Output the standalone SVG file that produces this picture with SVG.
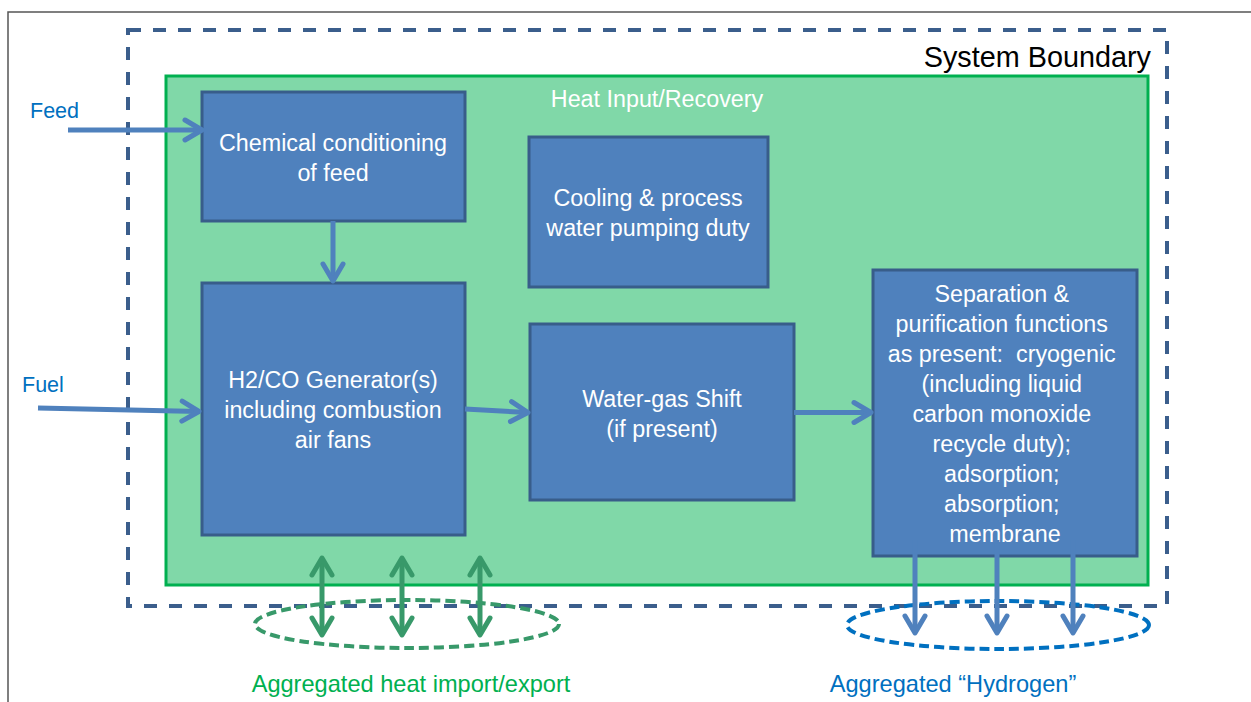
<svg xmlns="http://www.w3.org/2000/svg" width="1251" height="702" viewBox="0 0 1251 702">
<style>
  .box{fill:#4F81BD;stroke:#385D8A;stroke-width:3}
  .bt{font-family:"Liberation Sans",Arial,sans-serif;font-size:23.3px;fill:#FFFFFF;text-anchor:middle}
  .lbl{font-family:"Liberation Sans",Arial,sans-serif;font-size:21.5px}
  .agg{font-family:"Liberation Sans",Arial,sans-serif;font-size:23.6px;text-anchor:middle}
  .flow{stroke:#4F81BD;stroke-width:5;fill:none;marker-end:url(#ah)}
  .heat{stroke:#38996A;stroke-width:5;fill:none;marker-end:url(#ahg);marker-start:url(#ahg)}
  .h2{stroke:#4F81BD;stroke-width:5;fill:none;marker-end:url(#ah)}
</style>
<defs>
  <marker id="ah" markerUnits="userSpaceOnUse" viewBox="-24 -15 28 30" markerWidth="28" markerHeight="30" refX="0" refY="0" orient="auto">
    <path d="M-17,-10 L0,0 L-17,10" fill="none" stroke="#4F81BD" stroke-width="5" stroke-linecap="round" stroke-linejoin="round"/>
  </marker>
  <marker id="ahg" markerUnits="userSpaceOnUse" viewBox="-24 -15 28 30" markerWidth="28" markerHeight="30" refX="0" refY="0" orient="auto-start-reverse">
    <path d="M-17,-10 L0,0 L-17,10" fill="none" stroke="#38996A" stroke-width="5" stroke-linecap="round" stroke-linejoin="round"/>
  </marker>
</defs>
<rect width="1251" height="702" fill="#FFFFFF"/>
<path d="M8,702 L8,12 L1251,12" fill="none" stroke="#555555" stroke-width="1.5"/>
<g id="system-boundary">
  <rect x="128" y="30" width="1039" height="576" fill="none" stroke="#3B5E8C" stroke-width="4" stroke-dasharray="13 12"/>
  <text x="1151" y="67" class="lbl" style="font-size:28.8px" text-anchor="end" fill="#000000">System Boundary</text>
</g>
<g id="heat-input-recovery">
  <rect x="166" y="76" width="982" height="509" fill="#80D8A8" stroke="#00B050" stroke-width="3"/>
  <text x="657" y="107" class="bt">Heat Input/Recovery</text>
</g>
<g id="chemical-conditioning">
  <rect x="202" y="92" width="263" height="129" class="box"/>
  <text class="bt"><tspan x="333" y="151">Chemical conditioning</tspan><tspan x="333" y="181">of feed</tspan></text>
</g>
<g id="cooling">
  <rect x="529" y="137" width="239" height="150" class="box"/>
  <text class="bt"><tspan x="648" y="206">Cooling &amp; process</tspan><tspan x="648" y="236">water pumping duty</tspan></text>
</g>
<g id="h2co-generator">
  <rect x="202" y="283" width="263" height="252" class="box"/>
  <text class="bt"><tspan x="333" y="388">H2/CO Generator(s)</tspan><tspan x="333" y="418">including combustion</tspan><tspan x="333" y="448">air fans</tspan></text>
</g>
<g id="water-gas-shift">
  <rect x="530" y="324" width="264" height="176" class="box"/>
  <text class="bt"><tspan x="662" y="407">Water-gas Shift</tspan><tspan x="662" y="437">(if present)</tspan></text>
</g>
<g id="separation">
  <rect x="873" y="270" width="264" height="286" class="box"/>
  <text class="bt">
    <tspan x="1005" y="302">Separation &amp;</tspan>
    <tspan x="1005" y="332">purification functions</tspan>
    <tspan x="1005" y="362">as present:&#160; cryogenic</tspan>
    <tspan x="1005" y="392">(including liquid</tspan>
    <tspan x="1005" y="422">carbon monoxide</tspan>
    <tspan x="1005" y="452">recycle duty);</tspan>
    <tspan x="1005" y="482">adsorption;</tspan>
    <tspan x="1005" y="512">absorption;</tspan>
    <tspan x="1005" y="542">membrane</tspan>
  </text>
</g>
<g id="feed-label"><text x="30" y="118" class="lbl" fill="#0070C0">Feed</text></g>
<g id="fuel-label"><text x="22" y="392" class="lbl" fill="#0070C0">Fuel</text></g>
<g id="heat-aggregate">
  <ellipse cx="407" cy="624" rx="152" ry="24" fill="none" stroke="#38996A" stroke-width="4" stroke-dasharray="10 5"/>
  <text x="411" y="692" class="agg" fill="#00B050">Aggregated heat import/export</text>
</g>
<g id="hydrogen-aggregate">
  <ellipse cx="998" cy="625" rx="151" ry="24" fill="none" stroke="#0070C0" stroke-width="4" stroke-dasharray="10 5"/>
  <text x="953" y="692" class="agg" fill="#0070C0">Aggregated “Hydrogen”</text>
</g>
<g id="connectors">
  <line x1="68" y1="130" x2="202" y2="130" class="flow"/>
  <line x1="38" y1="408" x2="199" y2="411.5" class="flow"/>
  <line x1="333" y1="221" x2="333" y2="281" class="flow"/>
  <line x1="465" y1="409" x2="528" y2="412.5" class="flow"/>
  <line x1="794" y1="412.5" x2="871" y2="412.5" class="flow"/>
  <line x1="322" y1="558" x2="322" y2="635" class="heat"/>
  <line x1="402" y1="558" x2="402" y2="635" class="heat"/>
  <line x1="480" y1="558" x2="480" y2="635" class="heat"/>
  <line x1="915" y1="540" x2="915" y2="633" class="h2"/>
  <line x1="997" y1="540" x2="997" y2="633" class="h2"/>
  <line x1="1073" y1="540" x2="1073" y2="633" class="h2"/>
</g>
</svg>
